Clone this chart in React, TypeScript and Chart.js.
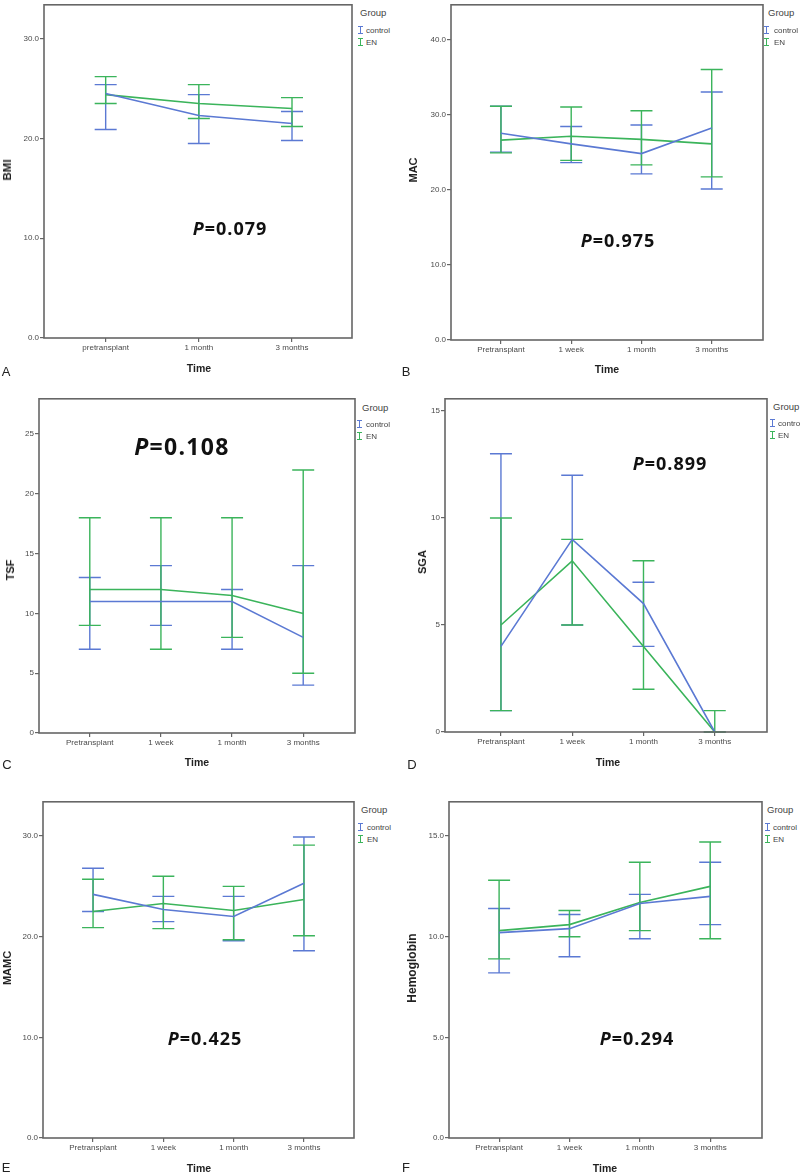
import React, { useEffect, useRef } from 'react';
import { Chart, registerables } from 'chart.js';

Chart.register(...registerables);

const COLOR_CONTROL = '#5b79d3';
const COLOR_EN = '#3bb45b';
const FRAME = '#666666';

const groupNames = ['control', 'EN'];
const timeLabels3 = ['pretransplant', '1 month', '3 months'];
const timeLabels4 = ['Pretransplant', '1 week', '1 month', '3 months'];

// A — BMI
const bmiControlMean = [24.5, 22.3, 21.5];
const bmiControlLow = [20.9, 19.5, 19.8];
const bmiControlHigh = [25.4, 24.4, 22.7];
const bmiEnMean = [24.4, 23.5, 23.0];
const bmiEnLow = [23.5, 22.0, 21.2];
const bmiEnHigh = [26.2, 25.4, 24.1];
const bmiTicks = [0, 10, 20, 30];

// B — MAC
const macControlMean = [27.5, 26.1, 24.8, 28.2];
const macControlLow = [25.0, 23.6, 22.1, 20.1];
const macControlHigh = [31.1, 28.4, 28.6, 33.0];
const macEnMean = [26.6, 27.1, 26.7, 26.1];
const macEnLow = [24.9, 23.9, 23.3, 21.7];
const macEnHigh = [31.1, 31.0, 30.5, 36.0];
const macTicks = [0, 10, 20, 30, 40];

// C — TSF
const tsfControlMean = [11, 11, 11, 8];
const tsfControlLow = [7, 9, 7, 4];
const tsfControlHigh = [13, 14, 12, 14];
const tsfEnMean = [12, 12, 11.5, 10];
const tsfEnLow = [9, 7, 8, 5];
const tsfEnHigh = [18, 18, 18, 22];
const tsfTicks = [0, 5, 10, 15, 20, 25];

// D — SGA
const sgaControlMean = [4, 9, 6, 0];
const sgaControlLow = [1, 5, 4, 0];
const sgaControlHigh = [13, 12, 7, 0];
const sgaEnMean = [5, 8, 4, 0];
const sgaEnLow = [1, 5, 2, 0];
const sgaEnHigh = [10, 9, 8, 1];
const sgaTicks = [0, 5, 10, 15];

// E — MAMC
const mamcControlMean = [24.2, 22.7, 22.0, 25.3];
const mamcControlLow = [22.5, 21.5, 19.6, 18.6];
const mamcControlHigh = [26.8, 24.0, 24.0, 29.9];
const mamcEnMean = [22.5, 23.3, 22.6, 23.7];
const mamcEnLow = [20.9, 20.8, 19.7, 20.1];
const mamcEnHigh = [25.7, 26.0, 25.0, 29.1];
const mamcTicks = [0, 10, 20, 30];

// F — Hemoglobin
const hbControlMean = [10.2, 10.4, 11.65, 12.0];
const hbControlLow = [8.2, 9.0, 9.9, 10.6];
const hbControlHigh = [11.4, 11.1, 12.1, 13.7];
const hbEnMean = [10.3, 10.6, 11.7, 12.5];
const hbEnLow = [8.9, 10.0, 10.3, 9.9];
const hbEnHigh = [12.8, 11.3, 13.7, 14.7];
const hbTicks = [0, 5, 10, 15];

type PanelSpec = {
  letter: string;
  yTitle: string;
  yTitleSize: number;
  pText: string;
  labels: string[];
  ctrl: [number[], number[], number[]];
  en: [number[], number[], number[]];
  yTicks: number[];
  decimals: number;
  yMax: number;
  xMin: number;
  xMax: number;
  box: { l: number; t: number; r: number; b: number };
  pPos: { x: number; y: number; size: number };
  yTitlePos: { x: number; y: number };
  timePos: { x: number; y: number };
  letterPos: { x: number; y: number };
  legend: { gx: number; gy: number; ix: number; tx: number; y1: number; y2: number };
};

const panels: PanelSpec[] = [
  {
    letter: 'A', yTitle: 'BMI', yTitleSize: 11.5, pText: '0.079', labels: timeLabels3,
    ctrl: [bmiControlMean, bmiControlLow, bmiControlHigh],
    en: [bmiEnMean, bmiEnLow, bmiEnHigh],
    yTicks: bmiTicks, decimals: 1, yMax: 33.4, xMin: -0.662, xMax: 2.644,
    box: { l: 44, t: 1, r: 352, b: 338 },
    pPos: { x: 230, y: 228, size: 18 },
    yTitlePos: { x: 7, y: 170 }, timePos: { x: 199, y: 368 }, letterPos: { x: 6, y: 371 },
    legend: { gx: 360, gy: 12, ix: 360, tx: 366, y1: 30, y2: 42 },
  },
  {
    letter: 'B', yTitle: 'MAC', yTitleSize: 11, pText: '0.975', labels: timeLabels4,
    ctrl: [macControlMean, macControlLow, macControlHigh],
    en: [macEnMean, macEnLow, macEnHigh],
    yTicks: macTicks, decimals: 1, yMax: 44.6, xMin: -0.711, xMax: 3.73,
    box: { l: 451, t: 1, r: 763, b: 340 },
    pPos: { x: 618, y: 240, size: 18 },
    yTitlePos: { x: 413, y: 170 }, timePos: { x: 607, y: 369 }, letterPos: { x: 406, y: 371 },
    legend: { gx: 768, gy: 12, ix: 766, tx: 774, y1: 30, y2: 42 },
  },
  {
    letter: 'C', yTitle: 'TSF', yTitleSize: 11, pText: '0.108', labels: timeLabels4,
    ctrl: [tsfControlMean, tsfControlLow, tsfControlHigh],
    en: [tsfEnMean, tsfEnLow, tsfEnHigh],
    yTicks: tsfTicks, decimals: 0, yMax: 27.95, xMin: -0.714, xMax: 3.728,
    box: { l: 39, t: 395, r: 355, b: 733 },
    pPos: { x: 182, y: 446, size: 23 },
    yTitlePos: { x: 10, y: 570 }, timePos: { x: 197, y: 762 }, letterPos: { x: 7, y: 764 },
    legend: { gx: 362, gy: 407, ix: 359, tx: 366, y1: 424, y2: 436 },
  },
  {
    letter: 'D', yTitle: 'SGA', yTitleSize: 11, pText: '0.899', labels: timeLabels4,
    ctrl: [sgaControlMean, sgaControlLow, sgaControlHigh],
    en: [sgaEnMean, sgaEnLow, sgaEnHigh],
    yTicks: sgaTicks, decimals: 0, yMax: 15.57, xMin: -0.785, xMax: 3.733,
    box: { l: 445, t: 395, r: 767, b: 732 },
    pPos: { x: 670, y: 463, size: 18 },
    yTitlePos: { x: 422, y: 562 }, timePos: { x: 608, y: 762 }, letterPos: { x: 412, y: 764 },
    legend: { gx: 773, gy: 406, ix: 772, tx: 778, y1: 423, y2: 435 },
  },
  {
    letter: 'E', yTitle: 'MAMC', yTitleSize: 11, pText: '0.425', labels: timeLabels4,
    ctrl: [mamcControlMean, mamcControlLow, mamcControlHigh],
    en: [mamcEnMean, mamcEnLow, mamcEnHigh],
    yTicks: mamcTicks, decimals: 1, yMax: 33.4, xMin: -0.712, xMax: 3.712,
    box: { l: 43, t: 798, r: 354, b: 1138 },
    pPos: { x: 205, y: 1038, size: 18 },
    yTitlePos: { x: 7, y: 968 }, timePos: { x: 199, y: 1168 }, letterPos: { x: 6, y: 1167 },
    legend: { gx: 361, gy: 809, ix: 360, tx: 367, y1: 827, y2: 839 },
  },
  {
    letter: 'F', yTitle: 'Hemoglobin', yTitleSize: 12, pText: '0.294', labels: timeLabels4,
    ctrl: [hbControlMean, hbControlLow, hbControlHigh],
    en: [hbEnMean, hbEnLow, hbEnHigh],
    yTicks: hbTicks, decimals: 1, yMax: 16.7, xMin: -0.712, xMax: 3.736,
    box: { l: 449, t: 798, r: 762, b: 1138 },
    pPos: { x: 637, y: 1038, size: 18 },
    yTitlePos: { x: 412, y: 968 }, timePos: { x: 605, y: 1168 }, letterPos: { x: 406, y: 1167 },
    legend: { gx: 767, gy: 809, ix: 767, tx: 773, y1: 827, y2: 839 },
  },
];

const Y_AXIS_W = 40;
const X_AXIS_H = 30;
const PAD = 2;

const frameAndErrorBars = {
  id: 'frameAndErrorBars',
  beforeDatasetsDraw(chart: any) {
    const { ctx } = chart;
    const xs = chart.scales.x;
    const ys = chart.scales.y;
    const bars = chart.options.plugins.frameAndErrorBars.bars as { low: number[]; high: number[]; color: string }[];
    ctx.save();
    bars.forEach((b) => {
      ctx.strokeStyle = b.color;
      ctx.lineWidth = 1.4;
      b.low.forEach((lo, i) => {
        const x = xs.getPixelForValue(i);
        const yl = ys.getPixelForValue(lo);
        const yh = ys.getPixelForValue(b.high[i]);
        ctx.beginPath();
        ctx.moveTo(x, yl);
        ctx.lineTo(x, yh);
        ctx.moveTo(x - 11, yl);
        ctx.lineTo(x + 11, yl);
        ctx.moveTo(x - 11, yh);
        ctx.lineTo(x + 11, yh);
        ctx.stroke();
      });
    });
    ctx.restore();
  },
  afterDraw(chart: any) {
    const { ctx, chartArea } = chart;
    ctx.save();
    ctx.strokeStyle = FRAME;
    ctx.lineWidth = 1.6;
    ctx.strokeRect(chartArea.left, chartArea.top, chartArea.right - chartArea.left, chartArea.bottom - chartArea.top);
    ctx.restore();
  },
};

function Panel({ p }: { p: PanelSpec }) {
  const ref = useRef<HTMLCanvasElement | null>(null);
  const w = p.box.r - p.box.l + Y_AXIS_W + PAD;
  const h = p.box.b - p.box.t + X_AXIS_H + PAD;

  useEffect(() => {
    if (!ref.current) return;
    const toPts = (arr: number[]) => arr.map((v, i) => ({ x: i, y: v }));
    const chart = new Chart(ref.current, {
      type: 'line',
      data: {
        datasets: [
          {
            label: groupNames[0],
            data: toPts(p.ctrl[0]),
            borderColor: COLOR_CONTROL,
            borderWidth: 1.6,
            pointRadius: 0,
            tension: 0,
          },
          {
            label: groupNames[1],
            data: toPts(p.en[0]),
            borderColor: COLOR_EN,
            borderWidth: 1.6,
            pointRadius: 0,
            tension: 0,
          },
        ],
      },
      options: {
        animation: false,
        responsive: false,
        maintainAspectRatio: false,
        devicePixelRatio: 1,
        layout: { padding: { left: 0, right: PAD, top: PAD, bottom: 0 } },
        plugins: {
          legend: { display: false },
          tooltip: { enabled: false },
          frameAndErrorBars: {
            bars: [
              { low: p.ctrl[1], high: p.ctrl[2], color: COLOR_CONTROL },
              { low: p.en[1], high: p.en[2], color: COLOR_EN },
            ],
          },
        } as any,
        scales: {
          x: {
            type: 'linear',
            min: p.xMin,
            max: p.xMax,
            afterBuildTicks: (s: any) => {
              s.ticks = p.labels.map((_, i) => ({ value: i }));
            },
            afterFit: (s: any) => {
              s.height = X_AXIS_H;
            },
            ticks: {
              autoSkip: false,
              maxRotation: 0,
              padding: 1,
              color: '#4a4a4a',
              font: { family: 'Liberation Sans, Arial, sans-serif', size: 8 },
              callback: (v: any) => p.labels[Math.round(Number(v))],
            },
            grid: { display: true, drawOnChartArea: false, drawTicks: true, tickLength: 4, color: FRAME, lineWidth: 1.2 },
            border: { display: false },
          },
          y: {
            type: 'linear',
            min: 0,
            max: p.yMax,
            afterBuildTicks: (s: any) => {
              s.ticks = p.yTicks.map((v) => ({ value: v }));
            },
            afterFit: (s: any) => {
              s.width = Y_AXIS_W;
            },
            ticks: {
              padding: 1,
              color: '#4a4a4a',
              font: { family: 'Liberation Sans, Arial, sans-serif', size: 8 },
              callback: (v: any) => Number(v).toFixed(p.decimals),
            },
            grid: { display: true, drawOnChartArea: false, drawTicks: true, tickLength: 4, color: FRAME, lineWidth: 1.2 },
            border: { display: false },
          },
        },
      },
      plugins: [frameAndErrorBars as any],
    });
    return () => chart.destroy();
  }, []);

  const sans = 'Liberation Sans, Arial, sans-serif';
  const center = (x: number, y: number): React.CSSProperties => ({
    position: 'absolute',
    left: x,
    top: y,
    transform: 'translate(-50%, -50%)',
    whiteSpace: 'nowrap',
  });

  const legendIcon = (x: number, y: number, color: string) => (
    <div style={{ position: 'absolute', left: x - 2, top: y - 4, width: 5, height: 8 }}>
      <div style={{ position: 'absolute', left: 0, top: 0, width: 5, height: 1, background: color }} />
      <div style={{ position: 'absolute', left: 2, top: 0, width: 1, height: 8, background: color }} />
      <div style={{ position: 'absolute', left: 0, top: 7, width: 5, height: 1, background: color }} />
    </div>
  );

  const legendText = (y: number, text: string) => (
    <div
      style={{
        position: 'absolute',
        left: p.legend.tx,
        top: y,
        transform: 'translateY(-50%)',
        font: `8px ${sans}`,
        color: '#444',
        whiteSpace: 'nowrap',
      }}
    >
      {text}
    </div>
  );

  return (
    <>
      <canvas
        ref={ref}
        width={w}
        height={h}
        style={{ position: 'absolute', left: p.box.l - Y_AXIS_W, top: p.box.t - PAD, width: w, height: h }}
      />
      <div
        style={{
          ...center(p.pPos.x, p.pPos.y),
          font: `bold ${p.pPos.size}px 'Open Sans', sans-serif`,
          letterSpacing: p.pPos.size > 20 ? 1.3 : 1,
          color: '#111',
        }}
      >
        <i>P</i>=
        {p.pText}
      </div>
      <div
        style={{
          ...center(p.yTitlePos.x, p.yTitlePos.y),
          transform: 'translate(-50%, -50%) rotate(-90deg)',
          font: `bold ${p.yTitleSize}px ${sans}`,
          color: '#222',
        }}
      >
        {p.yTitle}
      </div>
      <div style={{ ...center(p.timePos.x, p.timePos.y), font: `bold 10.5px ${sans}`, color: '#222' }}>Time</div>
      <div style={{ ...center(p.letterPos.x, p.letterPos.y), font: `13px ${sans}`, color: '#222' }}>{p.letter}</div>
      <div
        style={{
          position: 'absolute',
          left: p.legend.gx,
          top: p.legend.gy,
          transform: 'translateY(-50%)',
          font: `9.5px ${sans}`,
          color: '#444',
          whiteSpace: 'nowrap',
        }}
      >
        Group
      </div>
      {legendIcon(p.legend.ix, p.legend.y1, COLOR_CONTROL)}
      {legendIcon(p.legend.ix, p.legend.y2, COLOR_EN)}
      {legendText(p.legend.y1, groupNames[0])}
      {legendText(p.legend.y2, groupNames[1])}
    </>
  );
}

export default function App() {
  return (
    <div
      style={{
        position: 'absolute',
        left: 0,
        top: 0,
        width: 800,
        height: 1173,
        overflow: 'hidden',
        background: '#fff',
      }}
    >
      {panels.map((p) => (
        <Panel key={p.letter} p={p} />
      ))}
    </div>
  );
}
